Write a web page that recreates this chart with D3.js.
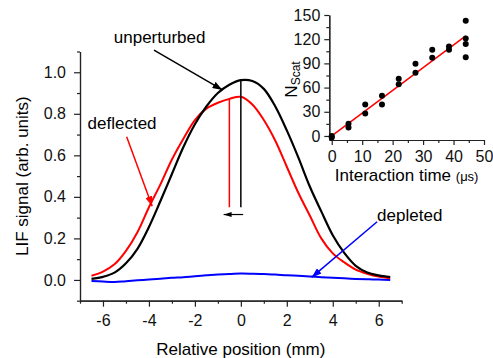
<!DOCTYPE html>
<html>
<head>
<meta charset="utf-8">
<script src="https://cdn.jsdelivr.net/npm/d3@7"></script>
<style>
  html, body { margin: 0; padding: 0; background: #fff; }
  svg { display: block; font-family: "Liberation Sans", Arial, sans-serif; }
</style>
</head>
<body>
<svg id="chart" width="493" height="358"></svg>
<script>
// ---------- Data ----------
const positions = [-6.5,-6.0,-5.5,-5.0,-4.5,-4.0,-3.5,-3.0,-2.5,-2.0,-1.5,-1.0,-0.5,0.0,0.5,1.0,1.5,2.0,2.5,3.0,3.5,4.0,4.5,5.0,5.5,6.0,6.5];
const unperturbed = [0.005,0.015,0.035,0.08,0.15,0.255,0.38,0.51,0.64,0.75,0.835,0.90,0.94,0.962,0.958,0.92,0.835,0.72,0.59,0.45,0.33,0.215,0.13,0.068,0.036,0.022,0.014];
const deflected = [0.02,0.04,0.075,0.14,0.23,0.35,0.46,0.58,0.68,0.77,0.825,0.853,0.872,0.882,0.845,0.77,0.67,0.545,0.42,0.31,0.2,0.128,0.085,0.05,0.03,0.016,0.008];
const depleted = [-0.005,-0.008,-0.01,-0.006,-0.002,0.002,0.006,0.01,0.013,0.018,0.022,0.026,0.028,0.031,0.03,0.028,0.026,0.022,0.02,0.017,0.013,0.01,0.008,0.005,0.003,0.002,0.0];

const xTicks = [-6,-4,-2,0,2,4,6];
const xMinorTicks = [-7,-5,-3,-1,1,3,5,7];
const yTicks = [0.0,0.2,0.4,0.6,0.8,1.0];
const yMinorTicks = [-0.1,0.1,0.3,0.5,0.7,0.9,1.1];

// inset data
const interactionTime = [0,0,5.5,5.5,11,11,16.5,16.5,22,22,27.5,27.5,33,33,38.5,38.5,44,44,44,44];
const nScat = [0,-2,15,10.5,39,28,50,39,71,64,89.5,78.5,107,97,111,107,143,121,114,97.5];
const fitTime = [0,44];
const fitN = [0,124];
const insetXTicks = [0,10,20,30,40,50];
const insetXMinor = [5,15,25,35,45];
const insetYTicks = [0,30,60,90,120,150];
const insetYMinor = [15,45,75,105,135];

// ---------- Setup ----------
const svg = d3.select("#chart");
const FONT = 17, TICKFONT = 16;
const axisColor = "#222";

const x = d3.scaleLinear().domain([-7, 7]).range([80, 401.7]);
const y = d3.scaleLinear().domain([-0.1, 1.1]).range([300.7, 51.5]);

const defs = svg.append("defs");
function marker(id, color, len, wid) {
  defs.append("marker")
    .attr("id", id)
    .attr("viewBox", `0 0 ${len} ${wid}`)
    .attr("refX", len).attr("refY", wid / 2)
    .attr("markerWidth", len).attr("markerHeight", wid)
    .attr("markerUnits", "userSpaceOnUse")
    .attr("orient", "auto")
    .append("path")
    .attr("d", `M0,0 L${len},${wid/2} L0,${wid} Z`)
    .attr("fill", color);
}
marker("arrBlack", "#000", 10, 7);
marker("arrRed", "#f00", 10, 7);
marker("arrBlue", "#00f", 10, 7);
marker("arrSmall", "#000", 8, 5);

function styleAxis(g) {
  g.selectAll(".domain").attr("stroke", axisColor).attr("stroke-width", 1.2);
  g.selectAll(".tick line").attr("stroke", axisColor).attr("stroke-width", 1.2);
  g.selectAll(".tick text").attr("fill", "#111").style("font-size", TICKFONT + "px")
    .style("font-family", '"Liberation Sans", Arial, sans-serif');
}

// ---------- Main axes ----------
const fmtX = d => String(d);
const gxMinor = svg.append("g").attr("transform", `translate(0,${y.range()[0]})`)
  .call(d3.axisBottom(x).tickValues(xMinorTicks).tickSize(3).tickSizeOuter(0).tickFormat(""));
const gx = svg.append("g").attr("transform", `translate(0,${y.range()[0]})`)
  .call(d3.axisBottom(x).tickValues(xTicks).tickSizeInner(6).tickSizeOuter(0).tickPadding(8).tickFormat(fmtX));
styleAxis(gxMinor); styleAxis(gx);
gx.selectAll(".tick text").attr("dy", "0.71em");

const gyMinor = svg.append("g").attr("transform", `translate(${x.range()[0]},0)`)
  .call(d3.axisLeft(y).tickValues(yMinorTicks).tickSize(3).tickSizeOuter(0).tickFormat(""));
const gy = svg.append("g").attr("transform", `translate(${x.range()[0]},0)`)
  .call(d3.axisLeft(y).tickValues(yTicks).tickSizeInner(6).tickSizeOuter(0).tickPadding(8).tickFormat(d3.format(".1f")));
styleAxis(gyMinor); styleAxis(gy);

// axis titles
svg.append("text")
  .attr("x", (x.range()[0] + x.range()[1]) / 2)
  .attr("y", 355)
  .attr("text-anchor", "middle")
  .style("font-size", FONT + "px")
  .text("Relative position (mm)");
svg.append("text")
  .attr("transform", `translate(28,${(y.range()[0] + y.range()[1]) / 2}) rotate(-90)`)
  .attr("text-anchor", "middle")
  .style("font-size", FONT + "px")
  .text("LIF signal (arb. units)");

// ---------- Curves ----------
const line = d3.line().x(d => x(d[0])).y(d => y(d[1])).curve(d3.curveCatmullRom.alpha(0.5));
function drawSeries(vals, color, w) {
  svg.append("path")
    .datum(positions.map((p, i) => [p, vals[i]]))
    .attr("d", line)
    .attr("fill", "none")
    .attr("stroke", color)
    .attr("stroke-width", w)
    .attr("stroke-linejoin", "round");
}
drawSeries(depleted, "#0000ff", 2);
drawSeries(deflected, "#ff0000", 2);
drawSeries(unperturbed, "#000000", 2.2);

// peak markers
svg.append("line")
  .attr("x1", x(-0.5)).attr("x2", x(-0.5))
  .attr("y1", y(0.872)).attr("y2", y(0.35))
  .attr("stroke", "#f00").attr("stroke-width", 1.5);
svg.append("line")
  .attr("x1", x(0)).attr("x2", x(0))
  .attr("y1", y(0.965)).attr("y2", y(0.35))
  .attr("stroke", "#000").attr("stroke-width", 1.5);
svg.append("line")
  .attr("x1", x(0.1)).attr("x2", x(-0.75))
  .attr("y1", y(0.315)).attr("y2", y(0.315))
  .attr("stroke", "#000").attr("stroke-width", 1.2)
  .attr("marker-end", "url(#arrSmall)");

// annotations
const annotations = [
  { text: "unperturbed", tx: -5.53, ty: 1.139, from: [-3.78, 1.107], to: [-0.8, 0.915], color: "#000", marker: "arrBlack" },
  { text: "deflected", tx: -6.67, ty: 0.725, from: [-4.97, 0.69], to: [-3.86, 0.355], color: "#f00", marker: "arrRed" },
  { text: "depleted", tx: 5.93, ty: 0.284, from: [5.93, 0.28], to: [3.08, 0.012], color: "#00f", marker: "arrBlue" }
];
annotations.forEach(a => {
  svg.append("text")
    .attr("x", x(a.tx)).attr("y", y(a.ty))
    .style("font-size", FONT + "px")
    .attr("fill", "#000")
    .text(a.text);
  svg.append("line")
    .attr("x1", x(a.from[0])).attr("y1", y(a.from[1]))
    .attr("x2", x(a.to[0])).attr("y2", y(a.to[1]))
    .attr("stroke", a.color).attr("stroke-width", 1.5)
    .attr("marker-end", `url(#${a.marker})`);
});

// ---------- Inset ----------
const ix = d3.scaleLinear().domain([-0.8, 50]).range([329.3, 484]);
const iy = d3.scaleLinear().domain([-5, 150]).range([140, 15]);

const igxMinor = svg.append("g").attr("transform", `translate(0,${iy.range()[0]})`)
  .call(d3.axisBottom(ix).tickValues(insetXMinor).tickSize(3).tickSizeOuter(0).tickFormat(""));
const igx = svg.append("g").attr("transform", `translate(0,${iy.range()[0]})`)
  .call(d3.axisBottom(ix).tickValues(insetXTicks).tickSizeInner(5).tickSizeOuter(0).tickPadding(6).tickFormat(d => String(d)));
styleAxis(igxMinor); styleAxis(igx);
igx.selectAll(".tick text").attr("dy", "0.71em");

const igyMinor = svg.append("g").attr("transform", `translate(${ix.range()[0]},0)`)
  .call(d3.axisLeft(iy).tickValues(insetYMinor).tickSize(3).tickSizeOuter(0).tickFormat(""));
const igy = svg.append("g").attr("transform", `translate(${ix.range()[0]},0)`)
  .call(d3.axisLeft(iy).tickValues(insetYTicks).tickSizeInner(5).tickSizeOuter(0).tickPadding(4).tickFormat(d => String(d)));
styleAxis(igyMinor); styleAxis(igy);

// fit line
svg.append("line")
  .attr("x1", ix(fitTime[0])).attr("y1", iy(fitN[0]))
  .attr("x2", ix(fitTime[1])).attr("y2", iy(fitN[1]))
  .attr("stroke", "#f00").attr("stroke-width", 1.5);

// points
svg.append("g").selectAll("circle")
  .data(interactionTime.map((t, i) => [t, nScat[i]]))
  .join("circle")
  .attr("cx", d => ix(d[0])).attr("cy", d => iy(d[1]))
  .attr("r", 3).attr("fill", "#000");

// inset titles
const ixt = svg.append("text")
  .attr("x", (ix.range()[0] + ix.range()[1]) / 2)
  .attr("y", 181)
  .attr("text-anchor", "middle")
  .style("font-size", FONT + "px");
ixt.append("tspan").text("Interaction time ");
ixt.append("tspan").style("font-size", "13px").text("(\u03BCs)");

const iyt = svg.append("text")
  .attr("transform", `translate(297,${(iy.range()[0] + iy.range()[1]) / 2 + 2}) rotate(-90)`)
  .attr("text-anchor", "middle")
  .style("font-size", FONT + "px");
iyt.append("tspan").text("N");
iyt.append("tspan").style("font-size", "12px").attr("dy", 3).text("Scat");
</script>
</body>
</html>
